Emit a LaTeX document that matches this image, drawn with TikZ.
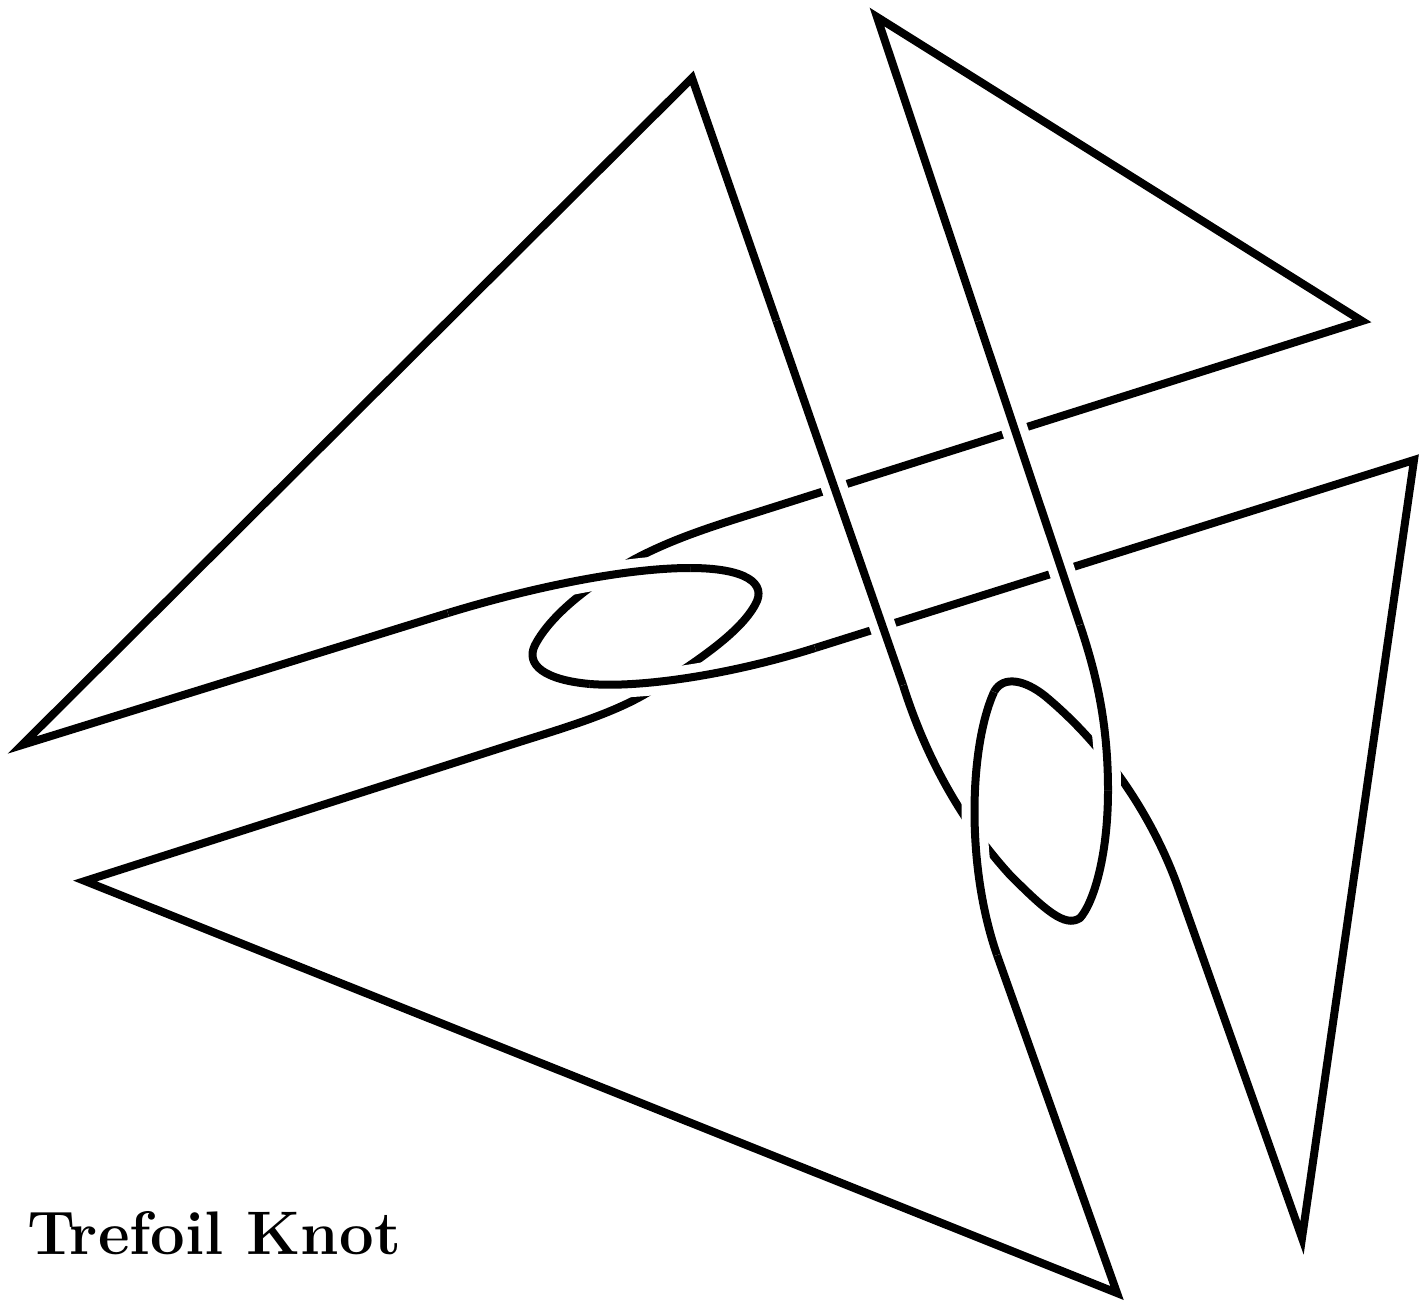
\documentclass[tikz,border=0pt]{standalone}
\usepackage{tikz}
\usetikzlibrary{calc}
\tikzset{
  strand/.style={black, line width=0.16cm, line join=miter},
  over/.style={strand, preaction={draw, white, line width=0.52cm}},
  caption/.style={anchor=base west, inner sep=0pt, font=\fontsize{35}{40}\selectfont\bfseries},
}

\begin{document}
\begin{tikzpicture}[x=0.02cm, y=-0.02cm]
  \useasboundingbox (0,0) rectangle (1422,1304);
  % tips of the lobes
  \coordinate (A) at (692,78);
  \coordinate (B) at (22,745);
  \coordinate (C) at (1362,321);
  \coordinate (D) at (877,17);
  \coordinate (E) at (1414,460);
  \coordinate (F) at (1302,1238);
  \coordinate (G) at (1117,1293);
  \coordinate (H) at (85,881);
  % ends of the straight runs
  \coordinate (a1) at (903,685);
  \coordinate (d1) at (1080,625);
  \coordinate (b1) at (448,613);
  \coordinate (h1) at (510,745);
  \coordinate (g1) at (997,955);
  \coordinate (f1) at (1180,893);
  \coordinate (e1) at (815,648);
  \coordinate (c1) at (755,513);
  % whole knot
  \draw[strand] (A) -- (B) -- (b1)
      .. controls (540,585) and (630,568) .. (690,568)
      .. controls (745,568) and (768,583) .. (755,605)
      .. controls (740,632) and (700,660) .. (647,693)
      .. controls (610,715) and (560,729) .. (h1)
      -- (H) -- (G) -- (g1)
      .. controls (965,863) and (970,745) .. (994,692)
      .. controls (1003,675) and (1025,680) .. (1045,696)
      .. controls (1110,750) and (1156,823) .. (f1)
      -- (F) -- (E) -- (e1)
      .. controls (730,675) and (640,688) .. (590,684)
      .. controls (545,680) and (525,665) .. (535,645)
      .. controls (548,620) and (580,590) .. (633,560)
      .. controls (670,540) and (710,527) .. (c1)
      -- (C) -- (D) -- (d1)
      .. controls (1095,670) and (1108,720) .. (1108,790)
      .. controls (1108,860) and (1092,905) .. (1080,918)
      .. controls (1065,928) and (1045,910) .. (1010,875)
      .. controls (960,820) and (925,755) .. (a1)
      -- cycle;
  % over passes
  \draw[over] (b1) .. controls (540,585) and (630,568) .. (690,568);
  \draw[over] (e1) .. controls (730,675) and (640,688) .. (590,684);
  \draw[over] ($(A)!0.4!(a1)$) -- (a1);
  \draw[over] ($(D)!0.5!(d1)$) -- (d1);
  \draw[over] (d1) .. controls (1095,670) and (1108,720) .. (1108,790);
  \draw[over] (g1) .. controls (965,863) and (970,745) .. (994,692);
  % label
  \node[caption] (title) at (27,1254) {Trefoil Knot};
\end{tikzpicture}
\end{document}
